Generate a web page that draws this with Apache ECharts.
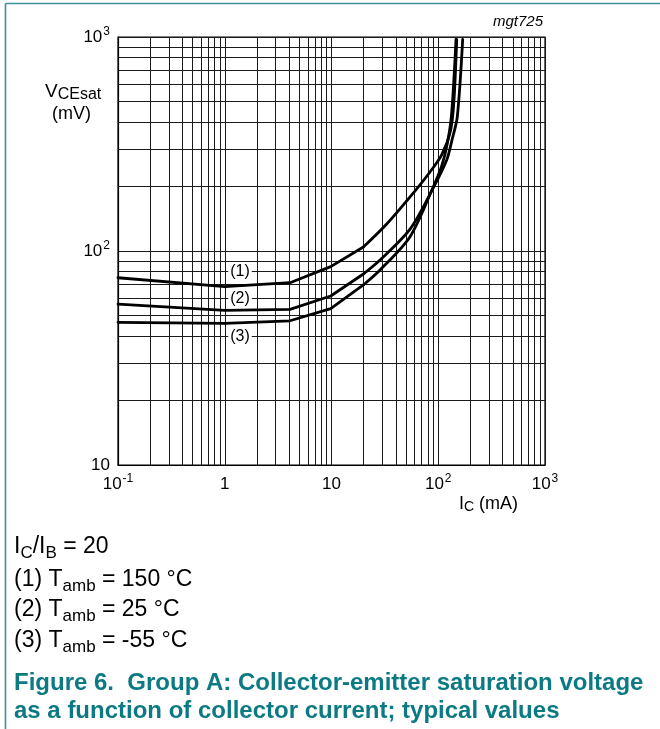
<!DOCTYPE html>
<html>
<head>
<meta charset="utf-8">
<style>
html,body{margin:0;padding:0;background:#fff;}
#chart{width:660px;height:729px;}
</style>
<script src="https://cdn.jsdelivr.net/npm/echarts@6/dist/echarts.min.js"></script>
</head>
<body>
<div id="chart"></div>
<script>
// ---- data ----
const xTicks = [0.1, 1, 10, 100, 1000];
const xTickLabels = ['10^-1', '1', '10', '10^2', '10^3'];
const yTicks = [10, 100, 1000];
const yTickLabels = ['10', '10^2', '10^3'];
const gridMultipliers = [2, 3, 4, 5, 6, 7, 8, 9];

// (1) Tamb = 150 C
const ic1 = [0.1, 1, 4.09, 9.83, 19.9, 32.9, 58.4, 83.7, 107.7, 130.8, 140.4, 148.9];
const v1  = [75.0, 68.1, 71.1, 84.5, 104.4, 133.7, 186.6, 234, 281, 367.6, 507.6, 975];
// (2) Tamb = 25 C
const ic2 = [0.1, 1, 4.09, 9.83, 19.9, 28.5, 54.4, 89.3, 120, 134.5, 150.8, 169.4];
const v2  = [56.5, 52.8, 53.4, 61.6, 78.1, 90.8, 126.5, 196, 266, 330, 424, 975];
// (3) Tamb = -55 C
const ic3 = [0.1, 1, 4.09, 9.83, 19.9, 28.5, 54.4, 89.3, 107.7, 120.8, 133.1, 146.7];
const v3  = [46.4, 45.9, 47.2, 53.8, 69.4, 81.5, 116.6, 198, 249.6, 312.8, 432, 975];
// index where the straight low-current part ends and the curved part begins
const bendIndex = 4;

const curveLabels = ['(1)', '(2)', '(3)'];
const curveLabelX = [1.39, 1.39, 1.39];
const curveLabelY = [80, 60, 40];

// ---- build ----
const FONT = '"Liberation Sans", Arial, Helvetica, sans-serif';
function pair(xs, ys){ return xs.map((x,i)=>[x, ys[i]]); }
function findLabel(v, ticks, labels){
  for (let i=0;i<ticks.length;i++){
    if (Math.abs(Math.log10(v) - Math.log10(ticks[i])) < 1e-6) return labels[i];
  }
  return '';
}
function richTick(s){
  const p = s.split('^');
  return p.length > 1 ? '{b|' + p[0] + '}{s|' + p[1] + '}' : '{b|' + p[0] + '}';
}
const tickRich = {
  b: {fontSize: 17, lineHeight: 22, color: '#000', fontFamily: FONT},
  s: {fontSize: 12, lineHeight: 12, padding: [0, 0, 10, 1], color: '#000', fontFamily: FONT}
};

const gridX = [], gridY = [];
[0.1, 1, 10, 100].forEach(d => gridMultipliers.forEach(m => gridX.push({xAxis: +(m*d).toPrecision(6)})));
[10, 100].forEach(d => gridMultipliers.forEach(m => gridY.push({yAxis: m*d})));

const GRID_COLOR = '#1a1a1a';
const curveStyle = {color: '#000', width: 2.8, cap: 'round', join: 'round'};

function curveSeries(name, xs, ys){
  const pts = pair(xs, ys);
  return [
    {
      name: name, type: 'line', data: pts.slice(0, bendIndex + 1), symbol: 'none',
      smooth: false, lineStyle: curveStyle, z: 5, silent: true, animation: false
    },
    {
      name: name, type: 'line', data: pts.slice(bendIndex), symbol: 'none',
      smooth: 0.3, lineStyle: curveStyle, z: 5, silent: true, animation: false
    }
  ];
}

function subStyle(base, sub, pad, lh){
  return {
    v: {fontSize: base, lineHeight: lh, fontFamily: FONT, color: '#000'},
    s: {fontSize: sub, lineHeight: sub, padding: [pad, 0, 0, 0], fontFamily: FONT, color: '#000'}
  };
}
const bodyRich = subStyle(23, 17, 12, 30);

const chart = echarts.init(document.getElementById('chart'), null, {renderer: 'canvas'});
const option = {
  animation: false,
  backgroundColor: '#fff',
  grid: {left: 118, top: 37, width: 427, height: 428, show: true, borderColor: '#000', borderWidth: 1.2, backgroundColor: 'transparent'},
  xAxis: {
    type: 'log', logBase: 10, min: 0.1, max: 1000,
    axisLine: {show: true, lineStyle: {color: '#000', width: 1.2}},
    axisTick: {show: false},
    splitLine: {show: true, lineStyle: {color: GRID_COLOR, width: 1}},
    axisLabel: {
      margin: 8, showMinLabel: true, showMaxLabel: true,
      formatter: v => richTick(findLabel(v, xTicks, xTickLabels)),
      rich: tickRich
    }
  },
  yAxis: {
    type: 'log', logBase: 10, min: 10, max: 1000,
    axisLine: {show: true, lineStyle: {color: '#000', width: 1.2}},
    axisTick: {show: false},
    splitLine: {show: true, lineStyle: {color: GRID_COLOR, width: 1}},
    axisLabel: {
      margin: 8, showMinLabel: true, showMaxLabel: true,
      formatter: v => richTick(findLabel(v, yTicks, yTickLabels)),
      rich: tickRich
    }
  },
  series: [
    {
      name: 'grid', type: 'line', data: [[0.1, 10]], symbol: 'none',
      lineStyle: {width: 0}, silent: true, z: 1,
      markLine: {
        silent: true, symbol: ['none', 'none'], animation: false,
        label: {show: false},
        lineStyle: {type: 'solid', color: GRID_COLOR, width: 1},
        emphasis: {disabled: true},
        data: gridX.concat(gridY)
      }
    }
  ].concat(
    curveSeries('(1) Tamb = 150 °C', ic1, v1),
    curveSeries('(2) Tamb = 25 °C', ic2, v2),
    curveSeries('(3) Tamb = -55 °C', ic3, v3),
    [{
      name: 'labels', type: 'scatter', symbol: 'circle', symbolSize: 1, z: 6, silent: true,
      itemStyle: {color: '#fff', opacity: 1},
      data: curveLabels.map((t, i) => ({value: [curveLabelX[i], curveLabelY[i]], name: t})),
      label: {
        show: true, position: 'inside', formatter: p => p.name,
        fontSize: 16, fontFamily: FONT, color: '#000', opacity: 1,
        backgroundColor: '#fff', padding: [1, 2]
      },
      labelLayout: {hideOverlap: false}
    }]
  ),
  graphic: [
    {type: 'line', silent: true, shape: {x1: 5.5, y1: 3.5, x2: 660, y2: 3.5}, style: {stroke: '#3e9396', lineWidth: 1.6}},
    {type: 'line', silent: true, shape: {x1: 5.5, y1: 3.5, x2: 5.5, y2: 729}, style: {stroke: '#3e9396', lineWidth: 1.6}},
    {type: 'text', silent: true, x: 543, y: 22, style: {text: 'mgt725', font: 'italic 15px ' + FONT, fill: '#000', align: 'right', textAlign: 'right', verticalAlign: 'middle', textVerticalAlign: 'middle'}},
    {type: 'text', silent: true, x: 45, y: 92, style: {
      text: '{v|V}{s|CEsat}', fill: '#000', align: 'left', textAlign: 'left', verticalAlign: 'middle', textVerticalAlign: 'middle',
      rich: subStyle(19, 16, 6, 22)
    }},
    {type: 'text', silent: true, x: 52, y: 114, style: {text: '(mV)', font: '18px ' + FONT, fill: '#000', align: 'left', textAlign: 'left', verticalAlign: 'middle', textVerticalAlign: 'middle'}},
    {type: 'text', silent: true, x: 459, y: 504, style: {
      text: '{v|I}{s|C}{v| (mA)}', fill: '#000', align: 'left', textAlign: 'left', verticalAlign: 'middle', textVerticalAlign: 'middle',
      rich: subStyle(18, 14, 7, 22)
    }},
    {type: 'text', silent: true, x: 14, y: 547, style: {
      text: '{v|I}{s|C}{v|/I}{s|B}{v| = 20}', fill: '#000', align: 'left', textAlign: 'left', verticalAlign: 'middle', textVerticalAlign: 'middle',
      rich: bodyRich
    }},
    {type: 'text', silent: true, x: 14, y: 580, style: {
      text: '{v|(1) T}{s|amb}{v| = 150 °C}', fill: '#000', align: 'left', textAlign: 'left', verticalAlign: 'middle', textVerticalAlign: 'middle',
      rich: bodyRich
    }},
    {type: 'text', silent: true, x: 14, y: 610, style: {
      text: '{v|(2) T}{s|amb}{v| = 25 °C}', fill: '#000', align: 'left', textAlign: 'left', verticalAlign: 'middle', textVerticalAlign: 'middle',
      rich: bodyRich
    }},
    {type: 'text', silent: true, x: 14, y: 641, style: {
      text: '{v|(3) T}{s|amb}{v| = -55 °C}', fill: '#000', align: 'left', textAlign: 'left', verticalAlign: 'middle', textVerticalAlign: 'middle',
      rich: bodyRich
    }},
    {type: 'text', silent: true, x: 14, y: 683, style: {text: 'Figure 6.  Group A: Collector-emitter saturation voltage', font: 'bold 24px ' + FONT, fill: '#0b7a82', align: 'left', textAlign: 'left', verticalAlign: 'middle', textVerticalAlign: 'middle'}},
    {type: 'text', silent: true, x: 14, y: 711, style: {text: 'as a function of collector current; typical values', font: 'bold 24px ' + FONT, fill: '#0b7a82', align: 'left', textAlign: 'left', verticalAlign: 'middle', textVerticalAlign: 'middle'}}
  ]
};
chart.setOption(option);
</script>
</body>
</html>
